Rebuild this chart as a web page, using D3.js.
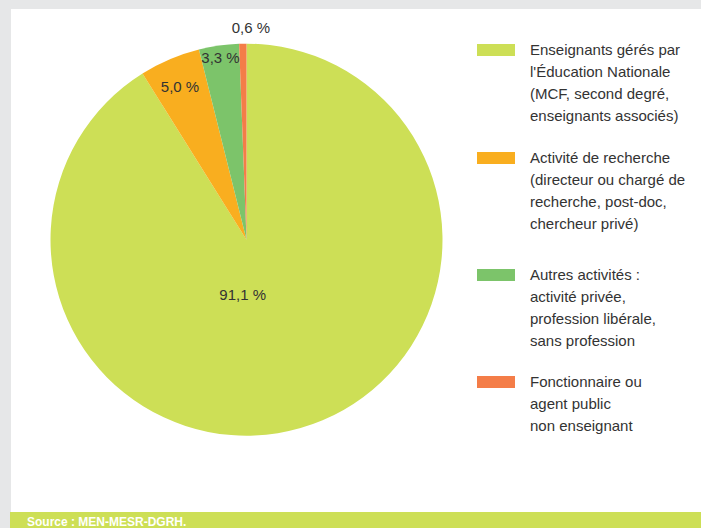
<!DOCTYPE html>
<html>
<head>
<meta charset="utf-8">
<script src="https://cdn.jsdelivr.net/npm/d3@7"></script>
<style>
  html, body { margin: 0; padding: 0; background: #e6e7e8; }
  svg { display: block; font-family: 'Liberation Sans', Arial, sans-serif; }
</style>
</head>
<body>
<svg id="chart" width="701" height="528"></svg>
<script>
// Données
const categories = [
  ['Enseignants gérés par', "l'Éducation Nationale", '(MCF, second degré,', 'enseignants associés)'],
  ['Activité de recherche', '(directeur ou chargé de', 'recherche, post-doc,', 'chercheur privé)'],
  ['Autres activités :', 'activité privée,', 'profession libérale,', 'sans profession'],
  ['Fonctionnaire ou', 'agent public', 'non enseignant']
]
const shares = [91.1, 5.0, 3.3, 0.6]
const shareLabels = ['91,1 %', '5,0 %', '3,3 %', '0,6 %']
const colors = ['#cddf56', '#f9ae1f', '#7cc46a', '#f47d48']
const source = 'Source : MEN-MESR-DGRH.'

// Mise en page
const width = 701
const height = 528
const cx = 246.5
const cy = 239.7
const radius = 196
const legendTops = [50, 158, 275, 382]
const lineHeight = 22
// position des étiquettes (rayon, décalage angulaire) façon Excel
const labelRadius = [55.4, 166.5, 183.6, 211.8]
const labelAngle = [0.069, -0.411, -0.142, 0.021]

const svg = d3.select('#chart')

// fond blanc du cadre
svg.append('rect')
  .attr('x', 11)
  .attr('y', 9)
  .attr('width', width - 11)
  .attr('height', 503)
  .attr('fill', '#fff')

// camembert
const pie = d3.pie().sort(null).value(d => d)
const arc = d3.arc().innerRadius(0).outerRadius(radius)

const g = svg.append('g').attr('transform', `translate(${cx},${cy})`)

g.selectAll('path')
  .data(pie(shares))
  .join('path')
  .attr('d', arc)
  .attr('fill', (d, i) => colors[i])

// étiquettes de pourcentage
g.selectAll('text.value')
  .data(shareLabels)
  .join('text')
  .attr('class', 'value')
  .attr('x', (d, i) => labelRadius[i] * Math.sin(labelAngle[i] + (i === 0 ? Math.PI : 0)))
  .attr('y', (d, i) => -labelRadius[i] * Math.cos(labelAngle[i] + (i === 0 ? Math.PI : 0)))
  .attr('dy', '0.35em')
  .attr('text-anchor', 'middle')
  .attr('fill', '#333')
  .style('font-size', '15px')
  .text(d => d)

// légende
const legend = svg.append('g')
  .selectAll('g')
  .data(categories)
  .join('g')
  .attr('transform', (d, i) => `translate(477,${legendTops[i]})`)

legend.append('rect')
  .attr('x', 0)
  .attr('y', -6)
  .attr('width', 38)
  .attr('height', 12)
  .attr('fill', (d, i) => colors[i])

legend.append('text')
  .attr('fill', '#333')
  .style('font-size', '15px')
  .selectAll('tspan')
  .data(d => d)
  .join('tspan')
  .attr('x', 53)
  .attr('y', (d, j) => j * lineHeight)
  .attr('dy', '0.35em')
  .text(d => d)

// bandeau source
svg.append('rect')
  .attr('x', 10)
  .attr('y', 512)
  .attr('width', width - 10)
  .attr('height', height - 512)
  .attr('fill', '#cddf56')

svg.append('text')
  .attr('x', 27)
  .attr('y', 526)
  .attr('fill', '#fff')
  .style('font-size', '12px')
  .style('font-weight', 'bold')
  .text(source)
</script>
</body>
</html>
